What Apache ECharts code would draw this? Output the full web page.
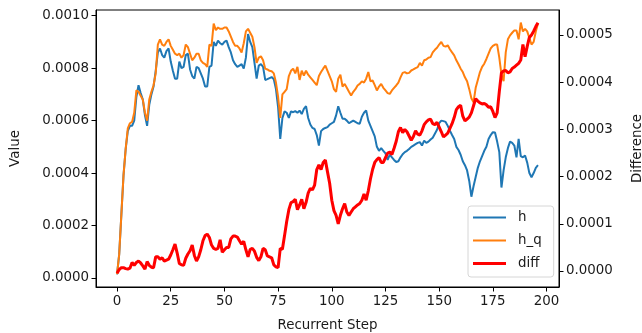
<!DOCTYPE html>
<html>
<head>
<meta charset="utf-8">
<script src="https://cdn.jsdelivr.net/npm/echarts@6/dist/echarts.min.js"></script>
<style>
html,body{margin:0;padding:0;background:#fff;}
#c{width:642px;height:333px;}
</style>
</head>
<body>
<div id="c"></div>
<script>
// values in units of 1e-4
const UNIT = 1e-4;
const hVals = [
0.14,0.9,2.4,3.9,4.9,5.6,5.8,5.8,6.0,6.9,
7.35,7.05,6.8,6.2,5.8,6.6,7.0,7.3,7.9,8.6,
8.75,8.5,8.4,8.65,8.75,8.25,7.9,7.6,7.6,8.25,
8.0,8.05,8.5,8.55,7.95,7.7,7.6,8.05,8.0,7.8,
7.6,7.3,7.3,8.05,8.1,9.0,8.85,9.05,8.95,8.9,
9.0,9.05,8.8,8.6,8.3,8.15,8.05,8.1,8.15,7.98,
8.4,9.3,9.0,8.8,8.2,7.6,8.1,8.15,8.05,7.55,
7.58,7.62,7.66,7.58,7.2,6.5,5.3,6.1,6.35,6.3,
6.1,6.35,6.32,6.36,6.3,6.38,6.25,6.45,6.55,6.1,
5.85,5.72,5.68,5.45,5.05,5.6,5.68,5.72,5.75,5.85,
5.9,5.95,6.2,6.55,6.3,6.07,6.07,6.0,5.9,5.95,
6.0,5.95,5.9,5.88,6.15,6.3,6.39,6.0,5.8,5.6,
5.4,5.0,4.85,4.95,4.85,4.75,4.5,4.7,4.6,4.5,
4.42,4.45,4.6,4.72,4.8,4.85,4.92,5.0,5.05,5.1,
5.15,5.18,5.05,5.24,5.15,5.2,5.28,5.35,5.5,5.65,
5.9,6.0,5.98,5.95,5.8,5.62,5.45,5.3,5.0,4.88,
4.7,4.45,4.3,4.1,3.7,3.1,3.5,3.85,4.2,4.45,
4.65,4.85,5.0,5.3,5.45,5.56,5.55,5.2,4.8,3.45,
4.1,4.6,4.95,5.2,5.15,5.05,4.6,5.3,4.65,4.6,
4.67,4.4,4.0,3.84,4.0,4.2,4.3
];
const hqVals = [
0.15,0.9,2.4,3.9,4.9,5.7,5.9,5.95,6.3,7.15,
7.1,6.95,6.8,6.3,6.0,6.8,7.1,7.35,7.8,8.9,
9.1,8.9,8.85,9.0,9.1,8.85,8.7,8.55,8.5,8.55,
8.4,8.5,8.9,8.8,8.55,8.3,8.4,8.55,8.55,8.3,
8.2,8.15,8.05,8.9,8.85,9.7,9.45,9.55,9.5,9.5,
9.55,9.55,9.4,9.2,9.0,8.85,8.85,8.75,8.6,8.95,
9.4,9.5,9.35,9.2,8.8,8.2,8.4,8.45,8.3,7.98,
7.95,7.9,7.88,7.8,7.45,6.9,6.1,7.0,7.1,7.2,
7.7,7.9,7.98,7.8,8.05,7.55,7.9,7.72,7.9,7.75,
7.65,7.55,7.45,7.35,7.7,7.85,7.98,8.1,7.9,7.7,
7.5,7.2,7.1,7.6,7.75,7.3,7.4,7.25,7.1,6.96,
7.1,7.2,7.34,7.4,7.5,7.45,7.6,7.85,7.5,7.53,
7.35,7.15,7.3,7.4,7.25,7.15,7.05,7.02,7.15,7.25,
7.34,7.45,7.65,7.82,7.85,7.8,7.82,7.91,7.95,8.0,
8.04,8.2,8.1,8.3,8.33,8.4,8.42,8.6,8.7,8.78,
8.9,9.0,8.85,8.82,8.87,8.72,8.6,8.49,8.3,8.15,
7.98,7.85,7.65,7.5,7.2,6.85,6.7,7.25,7.55,7.85,
8.05,8.17,8.35,8.55,8.75,8.85,8.9,8.9,8.4,7.75,
7.5,8.6,9.1,9.25,9.35,9.44,9.44,9.1,9.74,9.4,
9.5,9.4,9.15,8.9,9.0,9.4,9.7
];
const diffVals = [
-0.05,0.03,0.07,0.07,0.05,0.04,0.06,0.18,0.12,0.18,
0.21,0.17,0.11,0.04,0.2,0.12,0.08,0.07,0.3,0.3,
0.25,0.28,0.21,0.23,0.25,0.34,0.45,0.57,0.38,0.16,
0.13,0.12,0.27,0.36,0.43,0.55,0.33,0.21,0.3,0.45,
0.64,0.75,0.78,0.71,0.55,0.48,0.46,0.48,0.66,0.4,
0.45,0.5,0.5,0.68,0.74,0.74,0.72,0.64,0.57,0.63,
0.45,0.3,0.46,0.48,0.42,0.29,0.22,0.3,0.48,0.45,
0.32,0.3,0.28,0.13,0.09,0.07,0.48,0.46,0.75,1.05,
1.3,1.45,1.47,1.52,1.3,1.4,1.52,1.32,1.45,1.65,
1.75,1.72,1.82,2.15,2.25,2.15,2.3,2.35,2.1,1.86,
1.5,1.28,1.18,1.0,1.18,1.32,1.43,1.25,1.18,1.25,
1.32,1.36,1.4,1.43,1.5,1.63,1.5,1.7,1.95,2.15,
2.3,2.36,2.4,2.3,2.3,2.4,2.5,2.52,2.47,2.6,
2.75,2.95,3.04,2.93,3.0,2.95,2.86,2.77,2.85,2.97,
2.9,2.88,2.97,3.1,3.16,3.2,3.22,3.12,3.1,3.15,
3.05,2.95,2.84,2.88,2.92,3.02,3.12,3.25,3.42,3.48,
3.51,3.28,3.18,3.22,3.26,3.35,3.5,3.65,3.6,3.56,
3.54,3.55,3.52,3.47,3.48,3.38,3.25,3.35,3.8,4.2,
4.24,4.25,4.2,4.22,4.29,4.32,4.36,4.4,4.47,4.8,
4.54,4.76,4.95,5.0,5.08,5.18,5.26
];
const xTicks = [0,25,50,75,100,125,150,175,200];
const leftTicks = [0,0.0002,0.0004,0.0006,0.0008,0.0010];
const rightTicks = [0,0.0001,0.0002,0.0003,0.0004,0.0005];
const seriesNames = ['h','h_q','diff'];

const steps = hVals.map((_, i) => i);
const toPairs = arr => arr.map((v, i) => [steps[i], v * UNIT]);

const FONT = 'DejaVu Sans';
const TXT = '#1a1a1a';
const FS = 13.4;

const chart = echarts.init(document.getElementById('c'), null, {renderer:'canvas'});
chart.setOption({
  animation: false,
  backgroundColor: '#fff',
  textStyle: {fontFamily: FONT},
  grid: {left: 96, right: 83, top: 10, bottom: 46, outerBoundsMode: 'none', containLabel: false, show: true, borderColor: '#000', borderWidth: 1, backgroundColor: 'transparent'},
  legend: {
    data: [
      {name: seriesNames[0], icon: 'path://M0,0H33V2H0Z'},
      {name: seriesNames[1], icon: 'path://M0,0H33V2H0Z'},
      {name: seriesNames[2], icon: 'path://M0,0H33V3H0Z'}
    ],
    orient: 'vertical',
    left: 468, bottom: 56,
    padding: [5, 12, 7, 5],
    itemWidth: 33, itemHeight: 12, itemGap: 10,
    symbolKeepAspect: true,
    borderColor: '#d6d6d6', borderWidth: 1, borderRadius: 3,
    backgroundColor: 'rgba(255,255,255,0.85)',
    textStyle: {fontFamily: FONT, fontSize: FS, color: TXT, padding: [0,0,0,7]}
  },
  xAxis: {
    type: 'value', min: -9.8, max: 205.8,
    name: 'Recurrent Step', nameLocation: 'middle', nameGap: 32,
    nameTextStyle: {fontFamily: FONT, fontSize: FS, color: TXT},
    axisLine: {show: true, onZero: false, lineStyle: {color: '#000', width: 1}},
    axisTick: {show: true, inside: false, length: 4.5, customValues: xTicks, lineStyle: {color: '#000', width: 1}},
    axisLabel: {show: true, margin: 8, customValues: xTicks, fontFamily: FONT, fontSize: FS, color: TXT, formatter: v => String(v)},
    splitLine: {show: false}
  },
  yAxis: [
    {
      type: 'value', position: 'left', min: -0.0000343, max: 0.0010217,
      name: 'Value', nameLocation: 'middle', nameRotate: 90, nameGap: 74,
      nameTextStyle: {fontFamily: FONT, fontSize: FS, color: TXT},
      axisLine: {show: true, onZero: false, lineStyle: {color: '#000', width: 1}},
      axisTick: {show: true, length: 4.5, customValues: leftTicks, lineStyle: {color: '#000', width: 1}},
      axisLabel: {show: true, margin: 7, customValues: leftTicks, fontFamily: FONT, fontSize: FS, color: TXT, formatter: v => v.toFixed(4)},
      splitLine: {show: false}
    },
    {
      type: 'value', position: 'right', min: -0.0000339, max: 0.000553,
      name: 'Difference', nameLocation: 'middle', nameRotate: 90, nameGap: 72,
      nameTextStyle: {fontFamily: FONT, fontSize: FS, color: TXT},
      axisLine: {show: true, onZero: false, lineStyle: {color: '#000', width: 1}},
      axisTick: {show: true, length: 4.5, customValues: rightTicks, lineStyle: {color: '#000', width: 1}},
      axisLabel: {show: true, margin: 7, customValues: rightTicks, fontFamily: FONT, fontSize: FS, color: TXT, formatter: v => v.toFixed(4)},
      splitLine: {show: false}
    }
  ],
  series: [
    {name: seriesNames[0], type: 'line', yAxisIndex: 0, data: toPairs(hVals), symbol: 'none', showSymbol: false, lineStyle: {color: '#1f77b4', width: 2}, itemStyle: {color: '#1f77b4'}, z: 2},
    {name: seriesNames[1], type: 'line', yAxisIndex: 0, data: toPairs(hqVals), symbol: 'none', showSymbol: false, lineStyle: {color: '#ff7f0e', width: 2}, itemStyle: {color: '#ff7f0e'}, z: 3},
    {name: seriesNames[2], type: 'line', yAxisIndex: 1, data: toPairs(diffVals), symbol: 'none', showSymbol: false, lineStyle: {color: '#ff0000', width: 3}, itemStyle: {color: '#ff0000'}, z: 4}
  ]
});
</script>
</body>
</html>
